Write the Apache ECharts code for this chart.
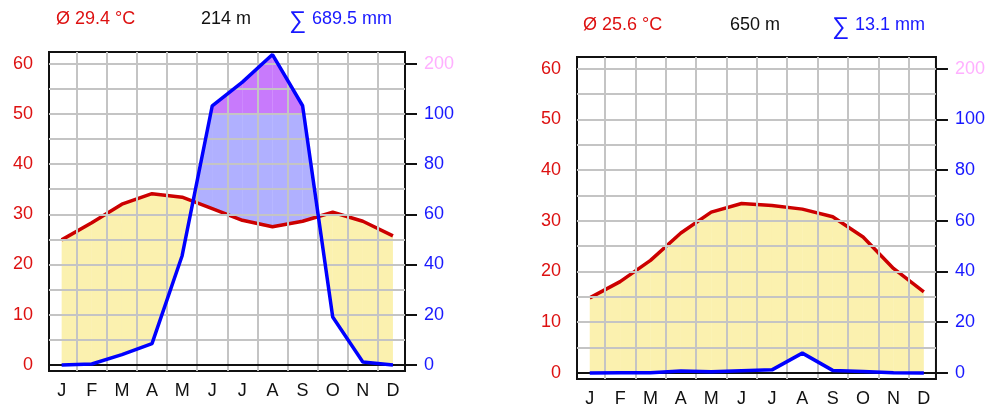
<!DOCTYPE html>
<html><head><meta charset="utf-8">
<script src="https://cdn.jsdelivr.net/npm/echarts@6/dist/echarts.min.js"></script>
<style>html,body{margin:0;padding:0;background:#fff}#c{width:988px;height:408px}</style>
</head><body><div id="c"></div>
<script>
// ---- data ----
const months = ['J','F','M','A','M','J','J','A','S','O','N','D'];
const tempA = [24.9, 28.3, 32.0, 34.1, 33.4, 31.1, 28.8, 27.5, 28.6, 30.4, 28.6, 25.7];
const precA = [0.0, 0.4, 4.1, 8.5, 43.5, 116, 163, 218, 116, 19.1, 1.2, 0.0];
const tempB = [14.8, 18.0, 22.2, 27.6, 31.7, 33.4, 33.0, 32.3, 30.8, 26.8, 20.6, 16.0];
const precB = [0.0, 0.1, 0.1, 0.8, 0.5, 0.9, 1.2, 7.8, 1.0, 0.6, 0.1, 0.0];
const tempTicks = [0, 10, 20, 30, 40, 50, 60];
const precTickLabels = ['0', '20', '40', '60', '80', '100', '200'];
const headerTempA = 'Ø 29.4 °C', headerElevA = '214 m', headerPrecA = '689.5 mm';
const headerTempB = 'Ø 25.6 °C', headerElevB = '650 m', headerPrecB = '13.1 mm';

// precipitation -> temperature scale (2 mm per °C up to 100 mm, then 20 mm per °C)
function scaleP(p) { return p <= 100 ? p / 2 : 50 + (p - 100) / 10; }
const HUMID_LIMIT = 50;

function clipY(poly, L, below) {
  const out = [];
  const inside = p => below ? p[1] <= L : p[1] >= L;
  for (let k = 0; k < poly.length; k++) {
    const a = poly[k], b = poly[(k + 1) % poly.length];
    const ia = inside(a), ib = inside(b);
    if (ia) out.push(a);
    if (ia !== ib) {
      const t = (L - a[1]) / (b[1] - a[1]);
      out.push([a[0] + t * (b[0] - a[0]), L]);
    }
  }
  return out;
}

function makeFill(temp, prec) {
  const ps = prec.map(scaleP);
  return function (params, api) {
    const i = api.value(0);
    const children = [];
    const d0 = temp[i] - ps[i], d1 = temp[i + 1] - ps[i + 1];
    const pieces = [];
    if (d0 * d1 < 0) {
      const t = d0 / (d0 - d1);
      const xm = i + t, ym = temp[i] + t * (temp[i + 1] - temp[i]);
      pieces.push([i, temp[i], ps[i], xm, ym, ym]);
      pieces.push([xm, ym, ym, i + 1, temp[i + 1], ps[i + 1]]);
    } else {
      pieces.push([i, temp[i], ps[i], i + 1, temp[i + 1], ps[i + 1]]);
    }
    const toPx = poly => poly.map(p => api.coord(p));
    pieces.forEach(([xa, ta, pa, xb, tb, pb]) => {
      const poly = [[xa, ta], [xb, tb], [xb, pb], [xa, pa]];
      if ((ta - pa) + (tb - pb) > 0) {
        children.push({type: 'polygon', shape: {points: toPx(poly)}, style: {fill: 'rgba(245,216,32,0.36)'}});
      } else {
        const lo = clipY(poly, HUMID_LIMIT, true);
        const hi = clipY(poly, HUMID_LIMIT, false);
        if (lo.length > 2) children.push({type: 'polygon', shape: {points: toPx(lo)}, style: {fill: 'rgba(0,0,255,0.31)'}});
        if (hi.length > 2) children.push({type: 'polygon', shape: {points: toPx(hi)}, style: {fill: 'rgba(150,0,250,0.52)'}});
      }
    });
    return {type: 'group', children};
  };
}

const FONT = '"Liberation Sans", Arial, sans-serif';
const gridLineData = [];
for (let v = 0.5; v < months.length - 1; v += 1) gridLineData.push({xAxis: v});
for (let v = 5; v <= 60; v += 5) gridLineData.push({yAxis: v});

const grids = [
  {left: 49, top: 52, width: 356, height: 319},
  {left: 577, top: 57, width: 360, height: 322}
];
const sets = [[tempA, precA], [tempB, precB]];

const option = {
  animation: false,
  backgroundColor: '#fff',
  grid: grids.map(g => Object.assign({show: true, borderColor: '#111', borderWidth: 2, backgroundColor: 'transparent'}, g)),
  xAxis: grids.map((g, k) => ({
    type: 'value', gridIndex: k, min: -0.42, max: 11.4,
    axisLine: {show: false}, axisTick: {show: false}, splitLine: {show: false},
    axisLabel: {customValues: months.map((m, i) => i), formatter: v => months[Math.round(v)],
      color: '#111', fontSize: 18, fontFamily: FONT, margin: 11}
  })),
  yAxis: [].concat(...grids.map((g, k) => [
    {type: 'value', gridIndex: k, position: 'left', min: -1.2, max: 62.3,
      axisLine: {show: false}, splitLine: {show: false},
      axisTick: {show: true, customValues: tempTicks, length: 11, lineStyle: {color: '#111', width: 2}},
      axisLabel: {customValues: tempTicks, color: '#dd1111', fontSize: 18, fontFamily: FONT, margin: 16}},
    {type: 'value', gridIndex: k, position: 'right', min: -1.2, max: 62.3,
      axisLine: {show: false}, splitLine: {show: false},
      axisTick: {show: true, customValues: tempTicks, length: 12, lineStyle: {color: '#111', width: 2}},
      axisLabel: {customValues: tempTicks, fontSize: 18, fontFamily: FONT, margin: 19,
        formatter: v => {
          const i = tempTicks.indexOf(Math.round(v));
          return (i === tempTicks.length - 1 ? '{p|' : '{b|') + precTickLabels[i] + '}';
        },
        rich: {b: {color: '#1818ff', fontSize: 18, fontFamily: FONT}, p: {color: '#ffb0ff', fontSize: 18, fontFamily: FONT}}}}
  ])),
  series: [].concat(...sets.map(([temp, prec], k) => [
    {type: 'line', xAxisIndex: k, yAxisIndex: 2 * k, data: [], z: 1, silent: true,
      markLine: {silent: true, symbol: ['none', 'none'], label: {show: false}, animation: false,
        lineStyle: {color: '#c4c4c4', width: 2, type: 'solid'}, data: gridLineData}},
    {type: 'custom', xAxisIndex: k, yAxisIndex: 2 * k, z: 2, silent: true, clip: true,
      renderItem: makeFill(temp, prec), data: months.slice(0, -1).map((m, i) => [i])},
    {type: 'line', xAxisIndex: k, yAxisIndex: 2 * k, data: [], z: 3, silent: true,
      markLine: {silent: true, symbol: ['none', 'none'], label: {show: false}, animation: false,
        lineStyle: {color: '#111', width: 2, type: 'solid'}, data: [{yAxis: 0}]}},
    {type: 'line', xAxisIndex: k, yAxisIndex: 2 * k, z: 4, symbol: 'none', silent: true,
      lineStyle: {color: '#cc0000', width: 3.5}, data: temp.map((v, i) => [i, v])},
    {type: 'line', xAxisIndex: k, yAxisIndex: 2 * k, z: 5, symbol: 'none', silent: true,
      lineStyle: {color: '#0000ff', width: 3.5}, data: prec.map((v, i) => [i, scaleP(v)])}
  ])),
  graphic: [
    {type: 'text', x: 56, y: 19, style: {text: headerTempA, fill: '#dd1111', font: '18px ' + FONT, verticalAlign: 'middle', textVerticalAlign: 'middle'}},
    {type: 'text', x: 201, y: 19, style: {text: headerElevA, fill: '#111', font: '18px ' + FONT, verticalAlign: 'middle', textVerticalAlign: 'middle'}},
    {type: 'text', x: 289, y: 21, style: {text: '∑', fill: '#1818ff', font: '24px ' + FONT, verticalAlign: 'middle', textVerticalAlign: 'middle'}},
    {type: 'text', x: 312, y: 19, style: {text: headerPrecA, fill: '#1818ff', font: '18px ' + FONT, verticalAlign: 'middle', textVerticalAlign: 'middle'}},
    {type: 'text', x: 583, y: 25, style: {text: headerTempB, fill: '#dd1111', font: '18px ' + FONT, verticalAlign: 'middle', textVerticalAlign: 'middle'}},
    {type: 'text', x: 730, y: 25, style: {text: headerElevB, fill: '#111', font: '18px ' + FONT, verticalAlign: 'middle', textVerticalAlign: 'middle'}},
    {type: 'text', x: 832, y: 27, style: {text: '∑', fill: '#1818ff', font: '24px ' + FONT, verticalAlign: 'middle', textVerticalAlign: 'middle'}},
    {type: 'text', x: 855, y: 25, style: {text: headerPrecB, fill: '#1818ff', font: '18px ' + FONT, verticalAlign: 'middle', textVerticalAlign: 'middle'}}
  ]
};
echarts.init(document.getElementById('c')).setOption(option);
</script></body></html>
